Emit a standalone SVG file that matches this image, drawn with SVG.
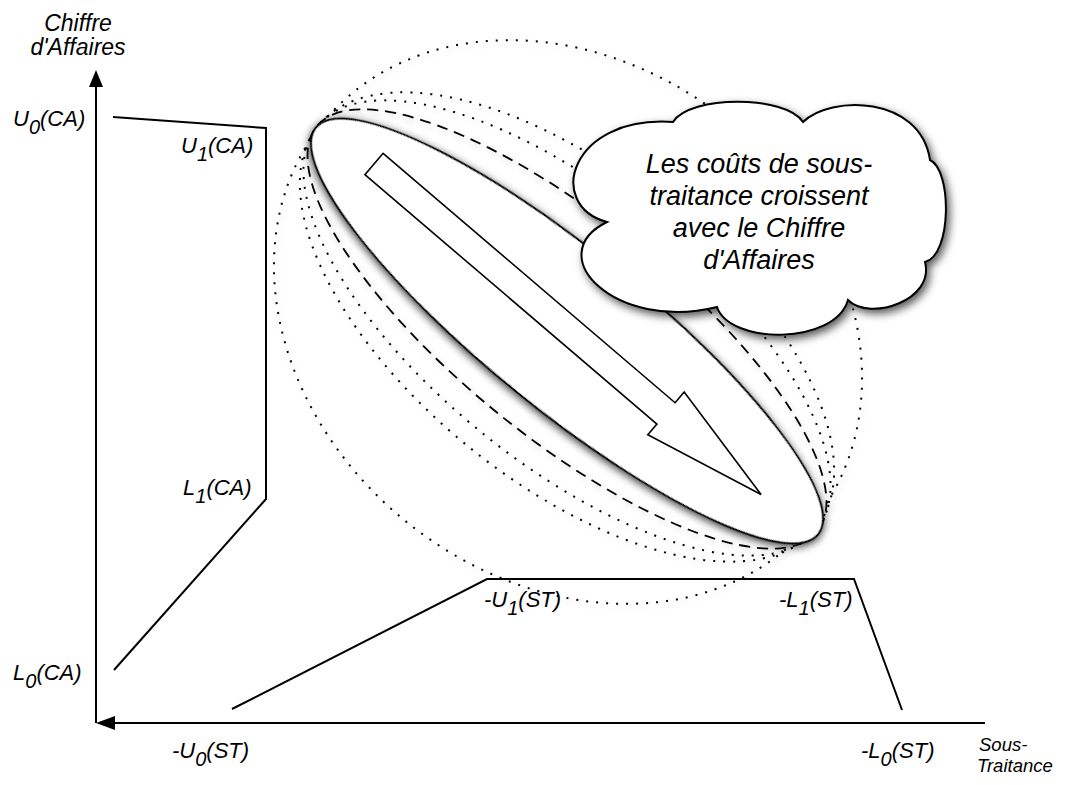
<svg xmlns="http://www.w3.org/2000/svg" width="1065" height="785" viewBox="0 0 1065 785">
<defs>
<style>
.lbl{font-family:"Liberation Sans",Arial,Helvetica,sans-serif;font-style:italic;font-size:22px;fill:#000}
.sub{font-size:20px}
.ttl{font-size:23px;text-anchor:middle}
.ttl2{font-size:18.5px}
.cl{font-size:27px;text-anchor:middle}
.ln{fill:none;stroke:#000;stroke-width:2}
.dot{fill:none;stroke:#000;stroke-width:2;stroke-dasharray:2 8}
.dash{fill:none;stroke:#000;stroke-width:1.8;stroke-dasharray:11 7}
.shape{fill:#fff;stroke:#000;stroke-width:2}
</style>
<filter id="sh" x="-20%" y="-20%" width="140%" height="140%">
<feDropShadow dx="3" dy="4" stdDeviation="4" flood-color="#000" flood-opacity="0.65"/>
</filter>
<filter id="sh3" x="-20%" y="-20%" width="140%" height="140%">
<feDropShadow dx="1" dy="2" stdDeviation="4" flood-color="#000" flood-opacity="0.8"/>
</filter>
<filter id="sh2" x="-10%" y="-10%" width="120%" height="120%">
<feDropShadow dx="2" dy="3" stdDeviation="3" flood-color="#000" flood-opacity="0.2"/>
</filter>
</defs>
<rect width="1065" height="785" fill="#fff"/>

<g id="connectors">
<line class="ln" x1="96" y1="723" x2="96" y2="86"/>
<polygon points="96,70 89,87 103,87" fill="#000"/>
<line class="ln" x1="985" y1="723" x2="112" y2="723"/>
<polygon points="96,723 115,716 115,730" fill="#000"/>
<polyline class="ln" points="113,117 266,128 266,499 114,670"/>
<polyline class="ln" points="232,709 487,579 854,579 902,710"/>
</g>

<g id="axis-labels">
<text class="lbl ttl" x="78" y="31">Chiffre</text>
<text class="lbl ttl" x="78" y="55">d'Affaires</text>
<text class="lbl ttl2" x="979" y="751">Sous-</text>
<text class="lbl ttl2" x="977" y="772">Traitance</text>
</g>

<g id="ca-labels">
<text class="lbl" x="13" y="126">U<tspan class="sub" dy="8">0</tspan><tspan dy="-8">(CA)</tspan></text>
<text class="lbl" x="181" y="153">U<tspan class="sub" dy="8">1</tspan><tspan dy="-8">(CA)</tspan></text>
<text class="lbl" x="183" y="495">L<tspan class="sub" dy="8">1</tspan><tspan dy="-8">(CA)</tspan></text>
<text class="lbl" x="13" y="680">L<tspan class="sub" dy="8">0</tspan><tspan dy="-8">(CA)</tspan></text>
</g>

<g id="st-labels">
<text class="lbl" x="172" y="758">-U<tspan class="sub" dy="8">0</tspan><tspan dy="-8">(ST)</tspan></text>
<text class="lbl" x="484" y="607">-U<tspan class="sub" dy="8">1</tspan><tspan dy="-8">(ST)</tspan></text>
<text class="lbl" x="779" y="607">-L<tspan class="sub" dy="8">1</tspan><tspan dy="-8">(ST)</tspan></text>
<text class="lbl" x="861" y="758">-L<tspan class="sub" dy="8">0</tspan><tspan dy="-8">(ST)</tspan></text>
</g>

<g id="ellipse-trail" filter="url(#sh2)">
<ellipse class="dot" cx="568" cy="322" rx="316" ry="257" transform="rotate(39 568 322)"/>
<ellipse class="dot" cx="567" cy="327" rx="320" ry="155" transform="rotate(39 567 327)"/>
<ellipse class="dot" cx="567" cy="328" rx="321" ry="135" transform="rotate(39 567 328)"/>
<ellipse class="dash" cx="567" cy="329" rx="322" ry="109" transform="rotate(39 567 329)"/>
</g>

<g id="ellipse">
<ellipse class="shape" filter="url(#sh3)" cx="567" cy="331" rx="323" ry="79" transform="rotate(39 567 331)"/>
</g>

<g id="block-arrow">
<path d="M0,-14 L384,-14 L384,-28 L509,0 L384,28 L384,14 L0,14 Z" fill="#fff" stroke="#000" stroke-width="1.6" stroke-linejoin="miter" transform="translate(374,164) rotate(40.5)"/>
</g>

<g id="cloud">
<path class="shape" filter="url(#sh)" d="M673,122 C690,95 785,95 803,122 C830,95 920,95 930,160 C952,170 952,255 925,262 C935,300 870,322 848,300 C835,345 730,345 717,307 C615,332 540,255 607,222 C545,205 570,115 673,122 Z"/>
<text class="lbl cl" x="759" y="173">Les coûts de sous-</text>
<text class="lbl cl" x="759" y="205">traitance croissent</text>
<text class="lbl cl" x="759" y="237">avec le Chiffre</text>
<text class="lbl cl" x="759" y="269">d'Affaires</text>
</g>
</svg>
